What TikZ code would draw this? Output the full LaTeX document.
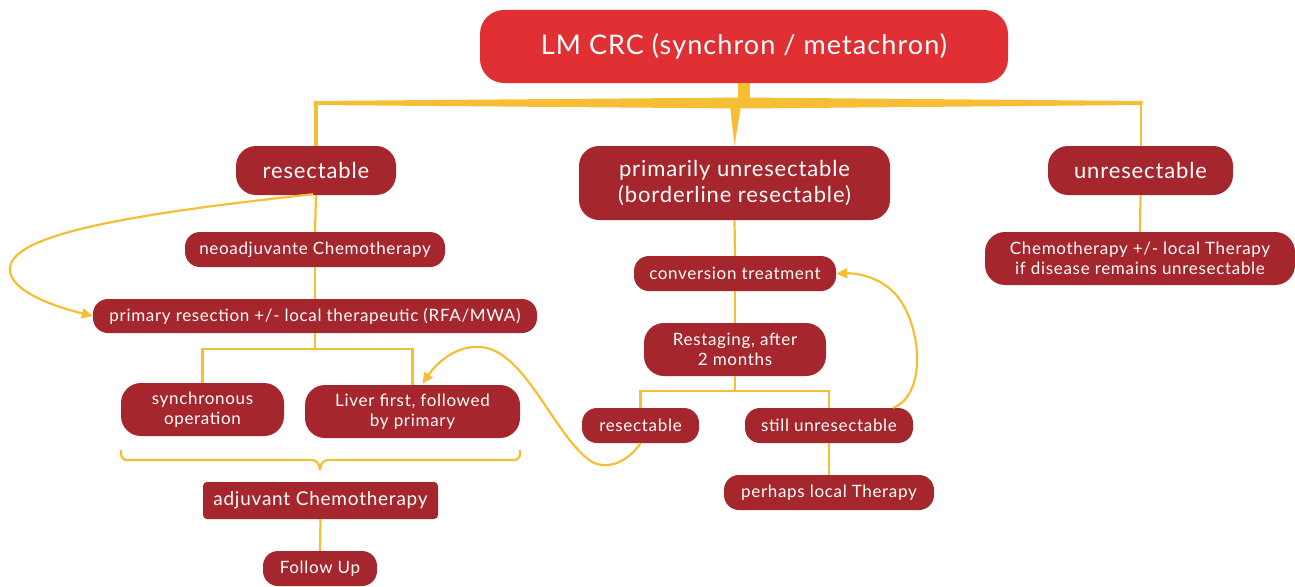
\documentclass[tikz,border=0pt]{standalone}
\usepackage{fontspec}
\setmainfont{Lato}[LetterSpace=4]
\usetikzlibrary{arrows.meta,calc}
\definecolor{topred}{HTML}{E03033}
\definecolor{dred}{HTML}{A6262D}
\definecolor{yel}{HTML}{F6BE34}
\tikzset{
  box/.style={fill=dred, text=white, rounded corners=15pt, inner sep=0pt, align=center, font=\fontsize{17}{19}\selectfont},
  twoline/.style={box, rounded corners=20pt, font=\fontsize{17}{20.5}\selectfont},
  bigbox/.style={box, rounded corners=20pt, font=\fontsize{22}{26}\selectfont},
  link/.style={draw=yel, line width=2.2pt},
  arr/.style={link, -{Triangle[length=11pt,width=10pt]}},
}
\begin{document}
\begin{tikzpicture}[x=1pt,y=-1pt]
\useasboundingbox (0,0) rectangle (1295,586);
% top node
\node[fill=topred, text=white, rounded corners=24pt, minimum width=528pt, minimum height=73pt, inner sep=0pt, font=\fontsize{27}{32}\selectfont] (top) at (744,46.5) {LM CRC (synchron / metachron)};
% level 2
\node[bigbox, minimum width=160pt, minimum height=49pt] (res) at (316,170.5) {resectable};
\node[bigbox, minimum width=311pt, minimum height=74pt] (prim) at (734.5,183) {primarily unresectable\\(borderline resectable)};
\node[bigbox, minimum width=185pt, minimum height=49pt] (unres) at (1140.5,170.5) {unresectable};
% left branch
\node[box, minimum width=260pt, minimum height=35pt] (neo) at (315,249.5) {neoadjuvante Chemotherapy};
\node[box, minimum width=444pt, minimum height=34pt] (prs) at (315,316) {primary resection +/- local therapeutic (RFA/MWA)};
\node[twoline, minimum width=163pt, minimum height=53pt] (sync) at (202.5,409.5) {synchronous\\operation};
\node[twoline, minimum width=215pt, minimum height=53pt] (liver) at (412.5,411.5) {Liver first, followed\\by primary};
\node[box, rounded corners=4pt, minimum width=235pt, minimum height=37pt, font=\fontsize{19}{22}\selectfont] (adj) at (320.5,500.5) {adjuvant Chemotherapy};
\node[box, minimum width=114pt, minimum height=35pt] (fu) at (320,568.5) {Follow Up};
% middle branch
\node[box, minimum width=202pt, minimum height=35pt] (conv) at (735,273.5) {conversion treatment};
\node[twoline, minimum width=182pt, minimum height=53pt] (rest) at (735,349.5) {Restaging, after\\2 months};
\node[box, minimum width=117pt, minimum height=35pt] (mres) at (640.5,425.5) {resectable};
\node[box, minimum width=168pt, minimum height=35pt] (still) at (829,425.5) {still unresectable};
\node[box, minimum width=210pt, minimum height=35pt] (perh) at (829,492.5) {perhaps local Therapy};
% right branch
\node[twoline, minimum width=310pt, minimum height=53pt] (chemo) at (1140,258.5) {Chemotherapy +/- local Therapy\\if disease remains unresectable};

% top connector
\fill[yel] ($(top.south)+(-6,0)$) rectangle (750,100);
\fill[yel] (313.5,101) -- (744,97.5) -- (1142.5,101) -- (1142.5,105) -- (744,108.5) -- (313.5,105) -- cycle;
\fill[yel] (313.5,103) rectangle ($(res.north)+(1.5,0)$);
\fill[yel] (1139.5,103) rectangle ($(unres.north)+(1.5,0)$);
\fill[yel] (730,106) -- (741,106) -- (prim.north) -- cycle;

% straight links
\draw[link] (res.south) -- (neo.north);
\draw[link] (neo.south) -- (prs.north);
\draw[link] (prs.south) -- ++(0,16) -| (sync.north);
\draw[link] (prs.south) -- ++(0,16) -| (liver.north);
\draw[link] (adj.south) -- (fu.north);
\draw[link] (prim.south) -- (conv.north);
\draw[link] (conv.south) -- (rest.north);
\draw[link] (rest.south) -- ++(0,15) -| (mres.north);
\draw[link] (rest.south) -- ++(0,15) -| (still.north);
\draw[link] (still.south) -- (perh.north);
\draw[link] (unres.south) -- (chemo.north);

% brace
\draw[link, rounded corners=6pt] (121,450) -- (121,460) -- (318,460) -- (320,470);
\draw[link, rounded corners=6pt] (520,450) -- (520,460) -- (322,460) -- (320,470);

% curved arrows
\coordinate (a1) at (10,268);
\draw[arr] ($(res.south)+(-3,-1)$) .. controls (150,212) and (12,232) .. (a1) .. controls (8,292) and (60,308) .. (prs.west);
\coordinate (a2) at (902,303);
\draw[arr] ($(still.north east)+(-20,0)$) .. controls (925,395) and (922,335) .. (a2) .. controls (888,280) and (862,273) .. (conv.east);
\coordinate (a3) at (592,462);
\coordinate (a4) at (480,347);
\draw[arr] (mres.south) .. controls (628,462) and (608,470) .. (a3) .. controls (555,438) and (525,349) .. (a4) .. controls (455,345) and (435,365) .. ($(liver.north)+(10,-1)$);
\end{tikzpicture}
\end{document}
